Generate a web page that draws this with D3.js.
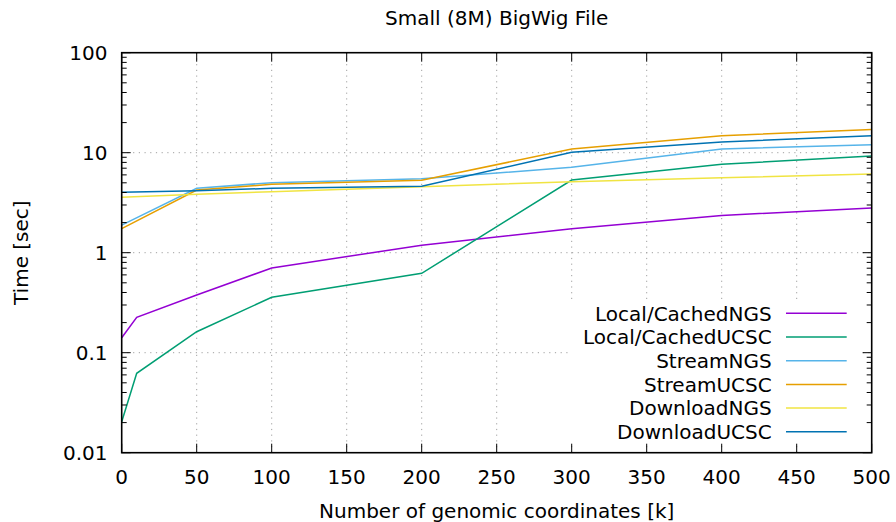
<!DOCTYPE html>
<html>
<head>
<meta charset="utf-8">
<script src="https://cdn.jsdelivr.net/npm/d3@7"></script>
<style>
  body { margin: 0; background: #fff; }
  svg { display: block; }
  text { font-family: "DejaVu Sans", sans-serif; fill: #000; }
</style>
</head>
<body>
<svg id="chart" width="896" height="522"></svg>
<script>
// Query sizes (thousands of genomic coordinates)
const coords = [0, 10, 50, 100, 200, 300, 400, 500];

// Timings in seconds; null where a configuration was not measured
const localCachedNGS  = [0.141, 0.226, 0.378, 0.703, 1.19, 1.74, 2.36, 2.80];
const localCachedUCSC = [0.0204, 0.0622, 0.162, 0.358, 0.622, 5.33, 7.65, 9.27];
const streamNGS       = [1.89, null, 4.41, 5.01, 5.50, 7.14, 10.9, 12.0];
const streamUCSC      = [1.74, null, 4.24, 4.83, 5.29, 10.9, 14.8, 17.1];
const downloadNGS     = [3.58, null, 3.84, 4.07, 4.57, 5.13, 5.62, 6.12];
const downloadUCSC    = [4.02, null, 4.17, 4.40, 4.61, 10.1, 12.8, 14.8];

const seriesNames = ["Local/CachedNGS", "Local/CachedUCSC", "StreamNGS", "StreamUCSC", "DownloadNGS", "DownloadUCSC"];
const seriesValues = [localCachedNGS, localCachedUCSC, streamNGS, streamUCSC, downloadNGS, downloadUCSC];
const seriesColors = ["#9400d3", "#009e73", "#56b4e9", "#e69f00", "#f0e442", "#0072b2"];

const xTicks = [0, 50, 100, 150, 200, 250, 300, 350, 400, 450, 500];
const yTicks = [0.01, 0.1, 1, 10, 100];
const yTickLabels = ["0.01", "0.1", "1", "10", "100"];

const chartTitle = "Small (8M) BigWig File";
const xTitle = "Number of genomic coordinates [k]";
const yTitle = "Time [sec]";

const svg = d3.select("#chart");
const plotL = 121.7, plotR = 871.7, plotT = 52.7, plotB = 452.7;

const x = d3.scaleLinear().domain([0, 500]).range([plotL, plotR]);
const y = d3.scaleLog().domain([0.01, 100]).range([plotB, plotT]);

// Dotted grid at major ticks
const grid = svg.append("g")
  .attr("stroke", "#a0a0a0").attr("stroke-width", 1).attr("stroke-dasharray", "1.2,4.5");
xTicks.filter(v => v > 0 && v < 500).forEach(v => {
  grid.append("line").attr("x1", x(v)).attr("x2", x(v)).attr("y1", plotT).attr("y2", plotB);
});
yTicks.filter(v => v > 0.01 && v < 100).forEach(v => {
  grid.append("line").attr("x1", plotL).attr("x2", plotR).attr("y1", y(v)).attr("y2", y(v));
});

// Series lines
const line = d3.line().x(d => x(d[0])).y(d => y(d[1]));
seriesValues.forEach((vals, i) => {
  const pts = coords.map((c, j) => [c, vals[j]]).filter(d => d[1] != null);
  svg.append("path").datum(pts)
    .attr("d", line)
    .attr("fill", "none")
    .attr("stroke", seriesColors[i])
    .attr("stroke-width", 1.5)
    .attr("stroke-linejoin", "miter");
});

// Legend with opaque background
const keyRight = 771.7, keyTop = 313.3, keyStep = 23.7;
svg.append("rect")
  .attr("x", 568).attr("y", 302).attr("width", 294).attr("height", 142)
  .attr("fill", "#fff");
seriesNames.forEach((name, i) => {
  const yy = keyTop + i * keyStep;
  svg.append("text")
    .attr("x", keyRight).attr("y", yy).attr("dy", "0.36em")
    .attr("text-anchor", "end").attr("font-size", 20)
    .text(name);
  svg.append("line")
    .attr("x1", 786).attr("x2", 846.7).attr("y1", yy).attr("y2", yy)
    .attr("stroke", seriesColors[i]).attr("stroke-width", 1.5);
});

// Tick marks (inward, mirrored on top and right)
const ticks = svg.append("g").attr("stroke", "#000").attr("stroke-width", 1);
const major = 9, minor = 5;
xTicks.forEach(v => {
  ticks.append("line").attr("x1", x(v)).attr("x2", x(v)).attr("y1", plotB).attr("y2", plotB - major);
  ticks.append("line").attr("x1", x(v)).attr("x2", x(v)).attr("y1", plotT).attr("y2", plotT + major);
});
const yMinor = [];
yTicks.slice(0, -1).forEach(d => { for (let k = 2; k <= 9; k++) yMinor.push(d * k); });
yTicks.forEach(v => {
  ticks.append("line").attr("x1", plotL).attr("x2", plotL + major).attr("y1", y(v)).attr("y2", y(v));
  ticks.append("line").attr("x1", plotR).attr("x2", plotR - major).attr("y1", y(v)).attr("y2", y(v));
});
yMinor.forEach(v => {
  ticks.append("line").attr("x1", plotL).attr("x2", plotL + minor).attr("y1", y(v)).attr("y2", y(v));
  ticks.append("line").attr("x1", plotR).attr("x2", plotR - minor).attr("y1", y(v)).attr("y2", y(v));
});

// Border
svg.append("rect")
  .attr("x", plotL).attr("y", plotT).attr("width", plotR - plotL).attr("height", plotB - plotT)
  .attr("fill", "none").attr("stroke", "#000").attr("stroke-width", 1.6);

// Tick labels
xTicks.forEach(v => {
  svg.append("text").attr("x", x(v)).attr("y", 484)
    .attr("text-anchor", "middle").attr("font-size", 20).text(v);
});
yTicks.forEach((v, i) => {
  svg.append("text").attr("x", 107.5).attr("y", y(v)).attr("dy", "0.36em")
    .attr("text-anchor", "end").attr("font-size", 20).text(yTickLabels[i]);
});

// Titles
svg.append("text").attr("x", (plotL + plotR) / 2).attr("y", 25)
  .attr("text-anchor", "middle").attr("font-size", 20).text(chartTitle);
svg.append("text").attr("x", (plotL + plotR) / 2).attr("y", 518)
  .attr("text-anchor", "middle").attr("font-size", 20).text(xTitle);
svg.append("text")
  .attr("transform", `translate(28,${(plotT + plotB) / 2}) rotate(-90)`)
  .attr("text-anchor", "middle").attr("font-size", 20).text(yTitle);
</script>
</body>
</html>
